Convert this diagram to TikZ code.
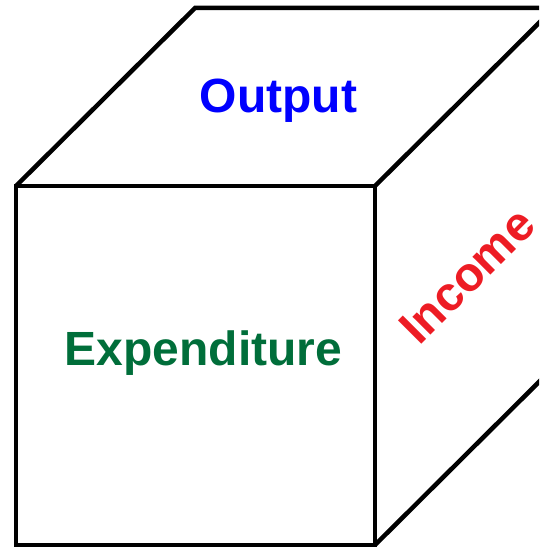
\documentclass[tikz,border=0pt]{standalone}
\usepackage{fontspec}
\setmainfont{Liberation Sans}
\definecolor{outblue}{RGB}{0,0,255}
\definecolor{expgreen}{RGB}{0,110,58}
\definecolor{incred}{RGB}{237,28,36}
\begin{document}
\begin{tikzpicture}[x=1pt,y=1pt,
  edge/.style={line width=4.5pt,line join=miter,black},
  lab/.style={font=\fontsize{48}{48}\selectfont\bfseries,inner sep=0pt}]
\useasboundingbox (0,0) rectangle (539,547);
\clip (0,0) rectangle (539,547);
\coordinate (A) at (16,361);
\coordinate (B) at (375,361);
\coordinate (C) at (375,2);
\coordinate (D) at (16,2);
\coordinate (E) at (195,539);
\coordinate (F) at (554,539);
\coordinate (G) at (554,180);
\draw[edge] (A) -- (B) -- (C) -- (D) -- cycle;
\draw[edge] (A) -- (E) -- (F);
\draw[edge] (B) -- (F);
\draw[edge] (C) -- (G);
\node[lab,text=outblue,anchor=base] (out) at (278.5,434) {Output};
\node[lab,text=expgreen,anchor=base] (exp) at (203.5,181) {Expenditure};
\node[lab,text=incred,rotate=45] (inc) at (467,271) {Income};
\end{tikzpicture}
\end{document}
